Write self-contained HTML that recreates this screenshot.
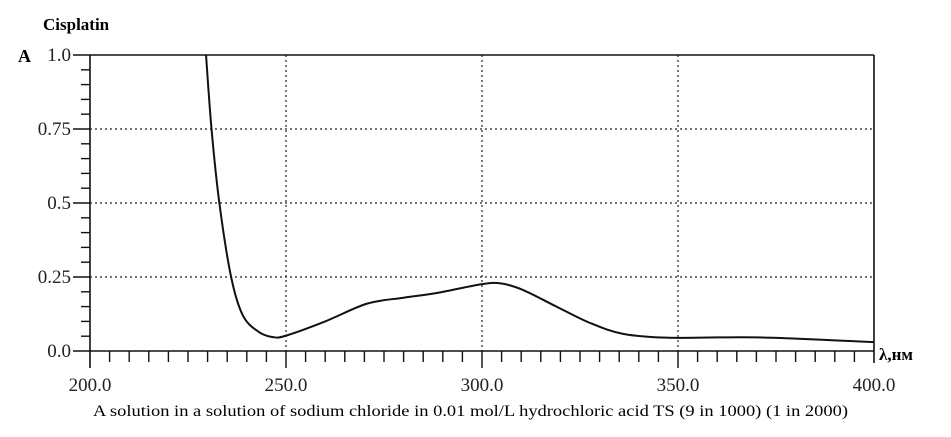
<!DOCTYPE html>
<html><head><meta charset="utf-8"><style>
html,body{margin:0;padding:0;background:#fff;}
svg{display:block;font-family:"Liberation Serif",serif;}
</style></head><body>
<svg width="951" height="437" viewBox="0 0 951 437">
<text x="43" y="30" font-size="17" font-weight="bold">Cisplatin</text>
<text x="18" y="62" font-size="18" font-weight="bold">A</text>
<text x="879" y="360" font-size="17" font-weight="bold">λ,нм</text>
<text x="93" y="416" font-size="16" textLength="755" lengthAdjust="spacingAndGlyphs">A solution in a solution of sodium chloride in 0.01 mol/L hydrochloric acid TS (9 in 1000) (1 in 2000)</text>
<g id="grid"></g>
<g id="axes"></g>
<path id="curve" fill="none" stroke="#111" stroke-width="2"/>
</svg>
<script>
const wavelengths = [229.6,231,233,236,239,243,246.7,250,260,270.7,280,288.5,300,305,310.5,319,327.5,336,347,360,370,380,390,400];
const absorbance = [1.0,0.75,0.5,0.25,0.12,0.065,0.047,0.052,0.1,0.16,0.18,0.196,0.226,0.228,0.206,0.15,0.095,0.058,0.045,0.046,0.046,0.042,0.036,0.03];
const xTicks = ["200.0","250.0","300.0","350.0","400.0"];
const yTicks = ["0.0","0.25","0.5","0.75","1.0"];
const X0=90,X1=874,Y0=351,Y1=55;
const xs=v=>X0+(v-200)/200*(X1-X0);
const ys=v=>Y0-v*(Y0-Y1);
const NS="http://www.w3.org/2000/svg";
const grid=document.getElementById('grid'),axes=document.getElementById('axes');
function mk(tag,attrs,parent){const e=document.createElementNS(NS,tag);for(const k in attrs)e.setAttribute(k,attrs[k]);parent.appendChild(e);return e;}
for(const t of [250,300,350]){const l=mk('line',{x1:xs(t),x2:xs(t),y1:Y1,y2:Y0,stroke:'#222','stroke-width':1.2,'stroke-dasharray':'2 3'},grid);

}
for(const t of [0.25,0.5,0.75]){const l=mk('line',{x1:X0,x2:X1,y1:ys(t),y2:ys(t),stroke:'#222','stroke-width':1.2,'stroke-dasharray':'2 3'},grid);

}
const fr=[[X0,Y1,X0,Y0+17],[X0-17,Y1,X1,Y1],[X1,Y1,X1,Y0+12],[X0-17,Y0,X1,Y0]];
for(const f of fr){const l=mk('line',{x1:f[0],y1:f[1],x2:f[2],y2:f[3],stroke:'#111','stroke-width':1.6},axes);

}
for(let v=205;v<400;v+=5){const maj=v%50===0;const l=mk('line',{x1:xs(v),x2:xs(v),y1:Y0,y2:Y0+(maj?17:11),stroke:'#111','stroke-width':1.4},axes);

}
xTicks.forEach(s=>{const t=mk('text',{x:xs(parseFloat(s)),y:391,'font-size':19,'text-anchor':'middle',fill:'#222'},axes);t.textContent=s;

});
for(let i=1;i<20;i++){const v=i*0.05;const maj=i%5===0;const l=mk('line',{x1:X0-(maj?17:9),x2:X0,y1:ys(v),y2:ys(v),stroke:'#111','stroke-width':1.4},axes);

}
yTicks.forEach(s=>{const t=mk('text',{x:71,y:ys(parseFloat(s))+6,'font-size':19,'text-anchor':'end',fill:'#222'},axes);t.textContent=s;

});
const P=wavelengths.map((w,i)=>[xs(w),ys(absorbance[i])]);
let d='M'+P[0][0]+','+P[0][1];
for(let i=0;i<P.length-1;i++){const p0=P[Math.max(0,i-1)],p1=P[i],p2=P[i+1],p3=P[Math.min(P.length-1,i+2)];
const c1=[p1[0]+(p2[0]-p0[0])/6,p1[1]+(p2[1]-p0[1])/6],c2=[p2[0]-(p3[0]-p1[0])/6,p2[1]-(p3[1]-p1[1])/6];
d+=' C'+c1+' '+c2+' '+p2;}
document.getElementById('curve').setAttribute('d',d);
</script>
</body></html>
